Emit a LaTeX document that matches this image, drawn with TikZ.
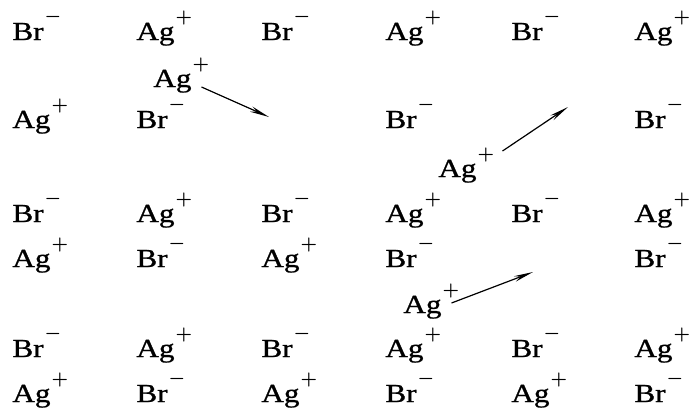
\documentclass[tikz,border=0pt]{standalone}
\usepackage{fontspec}
\setmainfont{Liberation Serif}[FakeStretch=1.2,FakeBold=1]
\usetikzlibrary{arrows.meta}
\newcommand{\agion}{Ag\kern0.5pt\raisebox{9pt}{\boldmath$\scriptstyle +$}}
\newcommand{\brion}{Br\kern0.5pt\raisebox{9.5pt}{\boldmath$\scriptstyle -$}}
\tikzset{
  ion/.style={anchor=base west, inner sep=0pt, font=\fontsize{13}{15}\selectfont},
  hop/.style={line width=0.6pt, -{Stealth[length=3.4mm,width=1mm]}}
}
\begin{document}
\begin{tikzpicture}[x=0.5pt,y=-0.5pt]
        \useasboundingbox (0,0) rectangle (689,408);
        % row 1
        \node[ion] (r1a) at (12,40)  {\brion};
        \node[ion] (r1b) at (136,40) {\agion};
        \node[ion] (r1c) at (261,40) {\brion};
        \node[ion] (r1d) at (385,40) {\agion};
        \node[ion] (r1e) at (511,40) {\brion};
        \node[ion] (r1f) at (634,40) {\agion};
        % row 2 (two vacancies)
        \node[ion] (r2a) at (12,128)  {\agion};
        \node[ion] (r2b) at (136,128) {\brion};
        \node[ion] (r2d) at (385,128) {\brion};
        \node[ion] (r2f) at (634,128) {\brion};
        % interstitial Ag+ jumping into the vacancies
        \node[ion] (hopa) at (153,87)  {\agion};
        \coordinate (vaca) at (269,117);
        \draw[hop] ([xshift=-4pt]hopa.base east) -- (vaca);
        \node[ion] (hopb) at (438,177) {\agion};
        \coordinate (vacb) at (568,107);
        \draw[hop] ([xshift=4pt,yshift=-2pt]hopb.north east) -- (vacb);
        % row 3
        \node[ion] (r3a) at (12,222)  {\brion};
        \node[ion] (r3b) at (136,222) {\agion};
        \node[ion] (r3c) at (261,222) {\brion};
        \node[ion] (r3d) at (385,222) {\agion};
        \node[ion] (r3e) at (511,222) {\brion};
        \node[ion] (r3f) at (634,222) {\agion};
        % row 4 (one vacancy)
        \node[ion] (r4a) at (12,267)  {\agion};
        \node[ion] (r4b) at (136,267) {\brion};
        \node[ion] (r4c) at (261,267) {\agion};
        \node[ion] (r4d) at (385,267) {\brion};
        \node[ion] (r4f) at (634,267) {\brion};
        \node[ion] (hopc) at (403,313) {\agion};
        \coordinate (vacc) at (533,272);
        \draw[hop] ([xshift=-4pt,yshift=5pt]hopc.base east) -- (vacc);
        % row 5
        \node[ion] (r5a) at (12,357)  {\brion};
        \node[ion] (r5b) at (136,357) {\agion};
        \node[ion] (r5c) at (261,357) {\brion};
        \node[ion] (r5d) at (385,357) {\agion};
        \node[ion] (r5e) at (511,357) {\brion};
        \node[ion] (r5f) at (634,357) {\agion};
        % row 6
        \node[ion] (r6a) at (12,402)  {\agion};
        \node[ion] (r6b) at (136,402) {\brion};
        \node[ion] (r6c) at (261,402) {\agion};
        \node[ion] (r6d) at (385,402) {\brion};
        \node[ion] (r6e) at (511,402) {\agion};
        \node[ion] (r6f) at (634,402) {\brion};
\end{tikzpicture}
\end{document}
